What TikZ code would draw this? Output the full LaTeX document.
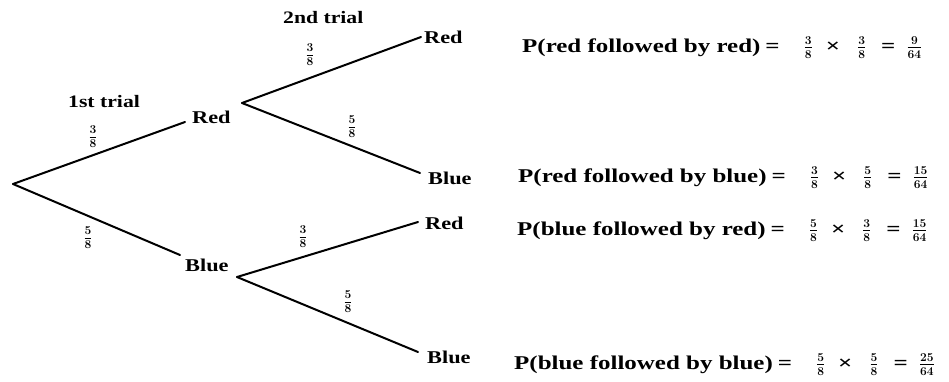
\documentclass[tikz,border=0pt]{standalone}
\usepackage{fontspec}
\setmainfont[FakeStretch=1.24]{Liberation Serif}
\newfontfamily\resfont[FakeStretch=1.28]{Liberation Serif}
\usepackage{amsmath,amsbsy}
\newcommand{\fr}[2]{{\fontsize{17}{17}\selectfont$\boldsymbol{\frac{#1}{#2}}$}}
\newcommand{\pline}[4]{#1\hspace{5pt}=\hspace{24pt}\fr{#2}{8}\hspace{13pt}×\hspace{17pt}\fr{#3}{8}\hspace{15pt}=\hspace{11pt}\fr{#4}{64}}
\tikzset{
  branch/.style={line width=2pt, line cap=round},
  outcome/.style={inner sep=0pt, anchor=base west, font=\bfseries\fontsize{18}{18}\selectfont},
  trial/.style={inner sep=0pt, anchor=base west, font=\bfseries\fontsize{17.5}{17.5}\selectfont},
  prob/.style={inner sep=0pt, font=\bfseries},
  result/.style={inner sep=0pt, anchor=base west, font=\resfont\bfseries\fontsize{19.5}{19.5}\selectfont},
}
\begin{document}
\begin{tikzpicture}[x=1pt,y=-1pt]
\useasboundingbox (0,0) rectangle (949,381);
% vertices and branch ends
\coordinate (root) at (13,184);
\coordinate (r1end) at (185,122);
\coordinate (b1end) at (180,255);
\coordinate (vr) at (242,103);
\coordinate (vb) at (237,277);
\coordinate (rrend) at (421,37);
\coordinate (rbend) at (420,173);
\coordinate (brend) at (418,222);
\coordinate (bbend) at (418,352);
% outcome labels
\node[outcome] (red1) at (192,123) {Red};
\node[outcome] (blue1) at (185,271) {Blue};
\node[outcome] (rr) at (424,43) {Red};
\node[outcome] (rb) at (428,184) {Blue};
\node[outcome] (br) at (425,229) {Red};
\node[outcome] (bb) at (427,363) {Blue};
% trial labels
\node[trial] (t1) at (68,107) {1st trial};
\node[trial] (t2) at (283,23) {2nd trial};
% branches
\draw[branch] (root) -- (r1end);
\draw[branch] (root) -- (b1end);
\draw[branch] (vr) -- (rrend);
\draw[branch] (vr) -- (rbend);
\draw[branch] (vb) -- (brend);
\draw[branch] (vb) -- (bbend);
% branch probabilities
\node[prob] (p1) at (93,137) {\fr{3}{8}};
\node[prob] (p2) at (88,238) {\fr{5}{8}};
\node[prob] (p3) at (310,55) {\fr{3}{8}};
\node[prob] (p4) at (352,127) {\fr{5}{8}};
\node[prob] (p5) at (303,237) {\fr{3}{8}};
\node[prob] (p6) at (348,302) {\fr{5}{8}};
% results
\node[result] (e1) at (522,52) {\pline{P(red followed by red)}{3}{3}{9}};
\node[result] (e2) at (518,182) {\pline{P(red followed by blue)}{3}{5}{15}};
\node[result] (e3) at (517,235) {\pline{P(blue followed by red)}{5}{3}{15}};
\node[result] (e4) at (514,369) {\pline{P(blue followed by blue)}{5}{5}{25}};
\end{tikzpicture}
\end{document}
